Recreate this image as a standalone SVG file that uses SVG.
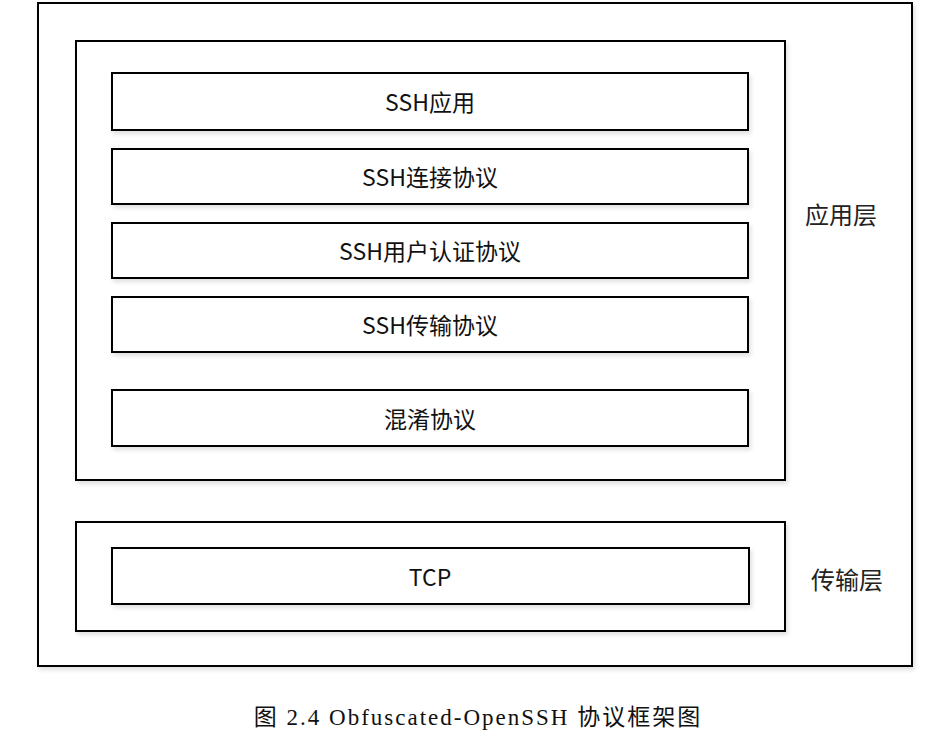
<svg xmlns="http://www.w3.org/2000/svg" width="937" height="743" viewBox="0 0 937 743">
<style>
.b{fill:#fff;stroke:#000;stroke-width:2;filter:url(#sh)}
.t{font-family:"Noto Sans CJK SC","DejaVu Sans",sans-serif;font-size:23px;fill:#111;text-anchor:middle;dominant-baseline:central}
.l{font-family:"Noto Sans CJK SC",sans-serif;font-size:24px;fill:#222;dominant-baseline:central}
.c{font-family:"Liberation Serif","Noto Sans CJK SC",serif;font-size:23px;letter-spacing:2px;fill:#111;text-anchor:middle}
</style>
<defs>
<filter id="sh" x="-5%" y="-5%" width="110%" height="120%">
<feDropShadow dx="2" dy="3" stdDeviation="2" flood-color="#000" flood-opacity="0.12"/>
</filter>
</defs>
<rect width="937" height="743" fill="#fff"/>
<g id="outer"><rect class="b" x="38" y="3" width="874" height="663"/></g>
<g id="app-layer"><rect class="b" x="76" y="41" width="709" height="439"/></g>
<g id="transport-layer"><rect class="b" x="76" y="522" width="709" height="109"/></g>
<g id="ssh-app"><rect class="b" x="112" y="73" width="636" height="57"/><text class="t" x="430" y="101">SSH应用</text></g>
<g id="ssh-conn"><rect class="b" x="112" y="149" width="636" height="55"/><text class="t" x="430" y="176">SSH连接协议</text></g>
<g id="ssh-auth"><rect class="b" x="112" y="223" width="636" height="55"/><text class="t" x="430" y="250">SSH用户认证协议</text></g>
<g id="ssh-trans"><rect class="b" x="112" y="297" width="636" height="55"/><text class="t" x="430" y="324">SSH传输协议</text></g>
<g id="obfs"><rect class="b" x="112" y="390" width="636" height="56"/><text class="t" x="430" y="418">混淆协议</text></g>
<g id="tcp"><rect class="b" x="112" y="548" width="637" height="56"/><text class="t" x="430" y="576">TCP</text></g>
<g id="labels">
<text class="l" x="805" y="213">应用层</text>
<text class="l" x="811" y="578">传输层</text>
</g>
<g id="connectors"></g>
<text class="c" x="478" y="725">图 2.4 Obfuscated-OpenSSH 协议框架图</text>
</svg>
